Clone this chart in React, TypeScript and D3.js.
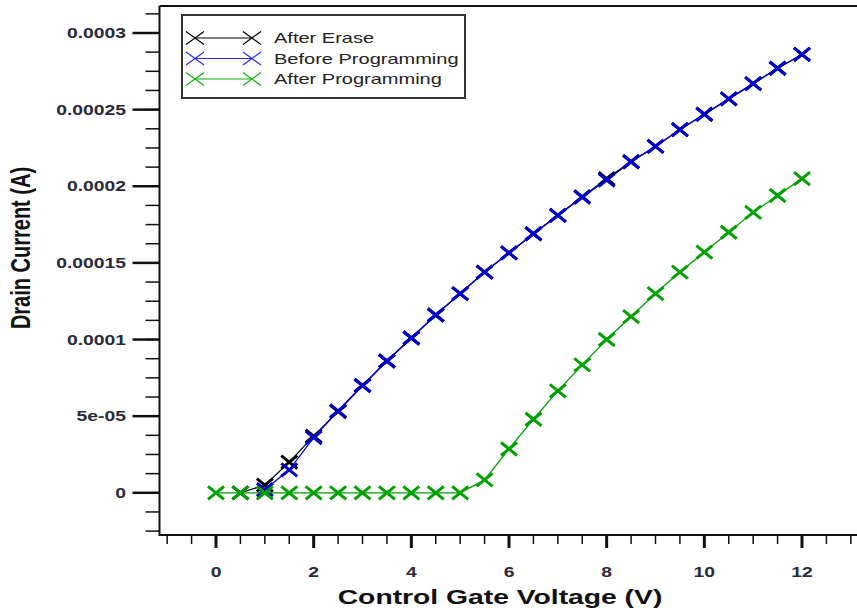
import React from "react";
import * as d3 from "d3";

const xs = [0, 0.5, 1, 1.5, 2, 2.5, 3, 3.5, 4, 4.5, 5, 5.5, 6, 6.5, 7, 7.5, 8, 8.5, 9, 9.5, 10, 10.5, 11, 11.5, 12];

// After Erase (black) from x = 0.5
const eraseX = [0.5, 1, 1.5, 2, 2.5, 3, 3.5, 4, 4.5, 5, 5.5, 6, 6.5, 7, 7.5, 8, 8.5, 9, 9.5, 10, 10.5, 11, 11.5, 12];
const eraseY = [0, 5e-6, 2.0e-5, 3.7e-5, 5.3e-5, 7.0e-5, 8.6e-5, 1.01e-4, 1.16e-4, 1.30e-4, 1.44e-4, 1.565e-4, 1.69e-4, 1.81e-4, 1.93e-4, 2.05e-4, 2.16e-4, 2.26e-4, 2.37e-4, 2.47e-4, 2.57e-4, 2.67e-4, 2.77e-4, 2.86e-4];

// Before Programming (blue) from x = 1
const beforeX = [1, 1.5, 2, 2.5, 3, 3.5, 4, 4.5, 5, 5.5, 6, 6.5, 7, 7.5, 8, 8.5, 9, 9.5, 10, 10.5, 11, 11.5, 12];
const beforeY = [2e-6, 1.5e-5, 3.6e-5, 5.35e-5, 7.0e-5, 8.6e-5, 1.01e-4, 1.16e-4, 1.30e-4, 1.44e-4, 1.565e-4, 1.69e-4, 1.81e-4, 1.93e-4, 2.04e-4, 2.16e-4, 2.26e-4, 2.37e-4, 2.47e-4, 2.57e-4, 2.67e-4, 2.77e-4, 2.86e-4];

// After Programming (green) x = 0..12
const afterY = [0, 0, 0, 0, 0, 0, 0, 0, 0, 0, 0, 8.4e-6, 2.86e-5, 4.8e-5, 6.65e-5, 8.35e-5, 1.0e-4, 1.15e-4, 1.30e-4, 1.44e-4, 1.57e-4, 1.70e-4, 1.83e-4, 1.94e-4, 2.05e-4];

const seriesNames = ["After Erase", "Before Programming", "After Programming"];
const seriesColors = ["#000000", "#0000cc", "#00a000"];
const legendColors = ["#000000", "#2a2aff", "#10b010"];

const yTickLabels = ["0", "5e-05", "0.0001", "0.00015", "0.0002", "0.00025", "0.0003"];
const yTickValues = [0, 5e-5, 1e-4, 1.5e-4, 2e-4, 2.5e-4, 3e-4];
const xTickValues = [0, 2, 4, 6, 8, 10, 12];

const W = 857;
const H = 610;
const SX = 1.38;
const FONT = "'Liberation Sans', Arial, sans-serif";

export default function App() {
  const x = d3.scaleLinear().domain([0, 12]).range([216, 802]);
  const y = d3.scaleLinear().domain([0, 3e-4]).range([492.8, 33]);
  const left = 159.5;
  const top = 6;
  const bottom = 535;
  const right = W + 2;

  const yMinor = d3.range(-2, 26).map((i) => i * 1.25e-5).filter((v) => y(v) > top + 2 && y(v) < bottom - 2);
  const xMinor = d3.range(-2, 27).map((i) => i * 0.5).filter((v) => x(v) > left + 2 && x(v) < W);

  const line = d3
    .line<[number, number]>()
    .x((d) => x(d[0]))
    .y((d) => y(d[1]));

  const series: [number, number][][] = [
    eraseX.map((v, i) => [v, eraseY[i]]),
    beforeX.map((v, i) => [v, beforeY[i]]),
    xs.map((v, i) => [v, afterY[i]]),
  ];

  const mw = 8;
  const mh = 6.5;
  const marker = (cx: number, cy: number, color: string, sw: number, k: string, w = mw, h = mh) => (
    <path
      key={k}
      d={`M${cx - w},${cy - h}L${cx + w},${cy + h}M${cx - w},${cy + h}L${cx + w},${cy - h}`}
      stroke={color}
      strokeWidth={sw}
      fill="none"
    />
  );

  const legendRows = [38, 58.5, 79];

  return (
    <svg width={W} height={H} style={{ position: "absolute", left: 0, top: 0, background: "#fff" }}>
      <rect x={0} y={0} width={W} height={H} fill="#fff" />
      {/* series */}
      {series.map((s, si) => (
        <g key={si}>
          <path d={line(s) || ""} fill="none" stroke={seriesColors[si]} strokeWidth={1.3} />
          {s.map((d, i) => marker(x(d[0]), y(d[1]), seriesColors[si], 3, `m${si}-${i}`))}
        </g>
      ))}

      {/* frame */}
      <path d={`M${left},${top}H${right}M${left},${top}V${bottom}H${right}`} stroke="#111" strokeWidth={2} fill="none" />

      {/* y ticks */}
      {yMinor.map((v, i) => (
        <line key={`ym${i}`} x1={left - 14} x2={left} y1={y(v)} y2={y(v)} stroke="#111" strokeWidth={1.5} />
      ))}
      {yTickValues.map((v, i) => (
        <g key={`yt${i}`}>
          <line x1={left - 27} x2={left} y1={y(v)} y2={y(v)} stroke="#111" strokeWidth={2.5} />
          <text
            transform={`translate(126,${y(v) + 5}) scale(${SX},1)`}
            textAnchor="end"
            fontFamily={FONT}
            fontWeight="bold"
            fontSize={14}
            fill="#2a2a3a"
          >
            {yTickLabels[i]}
          </text>
        </g>
      ))}

      {/* x ticks */}
      {xMinor.map((v, i) => (
        <line key={`xm${i}`} x1={x(v)} x2={x(v)} y1={bottom} y2={bottom + 9} stroke="#111" strokeWidth={1.5} />
      ))}
      {xTickValues.map((v, i) => (
        <g key={`xt${i}`}>
          <line x1={x(v)} x2={x(v)} y1={bottom} y2={bottom + 13} stroke="#111" strokeWidth={3} />
          <text
            transform={`translate(${x(v)},${577}) scale(${SX},1)`}
            textAnchor="middle"
            fontFamily={FONT}
            fontWeight="bold"
            fontSize={14}
            fill="#2a2a3a"
          >
            {d3.format("d")(v)}
          </text>
        </g>
      ))}

      {/* axis titles */}
      <text
        transform={`translate(500,604) scale(${SX},1)`}
        textAnchor="middle"
        fontFamily={FONT}
        fontWeight="bold"
        fontSize={20.5}
        fill="#111"
      >
        Control Gate Voltage (V)
      </text>
      <text
        transform={`translate(30,248) scale(1.4,1) rotate(-90)`}
        textAnchor="middle"
        fontFamily={FONT}
        fontWeight="bold"
        fontSize={20}
        fill="#111"
      >
        Drain Current (A)
      </text>

      {/* legend */}
      <rect x={182} y={15} width={283} height={83} fill="#fff" stroke="#333" strokeWidth={2} />
      {seriesNames.map((n, i) => (
        <g key={`lg${i}`}>
          <line x1={195} x2={252} y1={legendRows[i]} y2={legendRows[i]} stroke={legendColors[i]} strokeWidth={1.2} />
          {marker(195, legendRows[i], legendColors[i], 1.2, `la${i}`, 9, 6.5)}
          {marker(252, legendRows[i], legendColors[i], 1.2, `lb${i}`, 9, 6.5)}
          <text
            transform={`translate(274,${legendRows[i] + 5}) scale(${SX},1)`}
            fontFamily={FONT}
            fontSize={14.5}
            fill="#222"
          >
            {n}
          </text>
        </g>
      ))}
    </svg>
  );
}
